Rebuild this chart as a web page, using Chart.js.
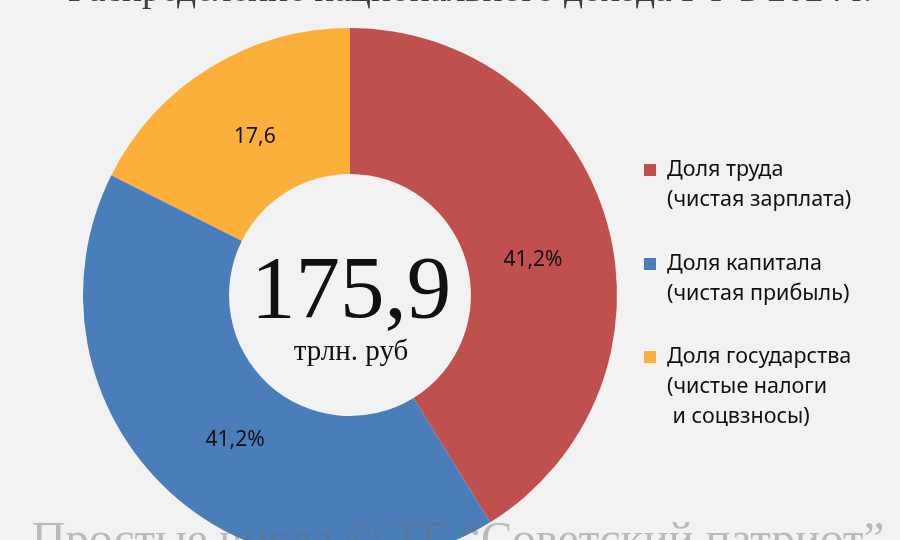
<!DOCTYPE html>
<html>
<head>
<meta charset="utf-8">
<script src="https://cdn.jsdelivr.net/npm/chart.js@4/dist/chart.umd.min.js"></script>
<style>
html,body{margin:0;padding:0;background:#f2f2f2;overflow:hidden;width:900px;height:540px;}
#wrap{position:absolute;left:0;top:0;width:900px;height:570px;}
</style>
</head>
<body>
<div id="wrap"><canvas id="c" width="900" height="570"></canvas></div>
<script>
// ---- data ----
const categories = [
  ["Доля труда", "(чистая зарплата)"],
  ["Доля капитала", "(чистая прибыль)"],
  ["Доля государства", "(чистые налоги", " и соцвзносы)"]
];
const shares = [41.2, 41.2, 17.6];
const shareLabels = ["41,2%", "41,2%", "17,6"];
const colors = ["#C0504D", "#4A7EBB", "#FBB03B"];
const totalText = "175,9";
const unitText = "трлн. руб";
const titleText = "Распределение национального дохода РФ в 2024 г.";
const watermarkText = "Простые числа © ТГ “Советский патриот”";

const overlay = {
  id: 'overlay',
  afterDatasetsDraw(chart) {
    const ctx = chart.ctx;
    const meta = chart.getDatasetMeta(0);
    const arc0 = meta.data[0];
    const cx = arc0.x, cy = arc0.y;
    ctx.save();
    // data labels (placed at ~mid ring, with small nudges like the original)
    const nudges = [[5, 16], [10, 9], [2, -1]];
    ctx.fillStyle = '#111';
    ctx.font = '21px "Noto Sans", sans-serif';
    ctx.textAlign = 'center';
    ctx.textBaseline = 'middle';
    meta.data.forEach((arc, i) => {
      const mid = (arc.startAngle + arc.endAngle) / 2;
      const r = (arc.innerRadius + arc.outerRadius) / 2 - 9;
      const x = cx + r * Math.cos(mid) + nudges[i][0];
      const y = cy + r * Math.sin(mid) + nudges[i][1];
      ctx.fillText(shareLabels[i], x, y);
    });
    // center text
    ctx.fillStyle = '#111';
    ctx.font = '89px "Liberation Serif", serif';
    ctx.textBaseline = 'alphabetic';
    ctx.fillText(totalText, cx + 1, cy + 22);
    ctx.font = '29px "Liberation Serif", serif';
    ctx.fillText(unitText, cx + 1, cy + 65);
    // legend
    ctx.textAlign = 'left';
    ctx.textBaseline = 'middle';
    ctx.font = '21.5px "Noto Sans", sans-serif';
    const lx = 644, tx = 667;
    const itemY = [170, 264, 357];
    chart.data.labels.forEach((lines, i) => {
      ctx.fillStyle = chart.data.datasets[0].backgroundColor[i];
      ctx.fillRect(lx, itemY[i] - 6, 12, 12);
      ctx.fillStyle = '#111';
      lines.forEach((t, j) => ctx.fillText(t, tx, itemY[i] + j * 30));
    });
    // title (cut at top)
    ctx.textAlign = 'center';
    ctx.textBaseline = 'alphabetic';
    ctx.fillStyle = '#404040';
    ctx.font = '37.5px "Liberation Serif", serif';
    ctx.fillText(titleText, 470, 1);
    // watermark
    ctx.fillStyle = 'rgba(110,110,110,0.42)';
    ctx.font = '47px "Liberation Serif", serif';
    ctx.fillText(watermarkText, 458, 554);
    ctx.restore();
  }
};

new Chart(document.getElementById('c'), {
  type: 'doughnut',
  data: {
    labels: categories,
    datasets: [{
      data: shares,
      backgroundColor: colors,
      borderWidth: 0
    }]
  },
  options: {
    responsive: false,
    animation: false,
    cutout: '45.3%',
    layout: { padding: { left: 83, right: 283, top: 28, bottom: 8 } },
    plugins: { legend: { display: false }, tooltip: { enabled: false }, title: { display: false } }
  },
  plugins: [overlay]
});
</script>
</body>
</html>
